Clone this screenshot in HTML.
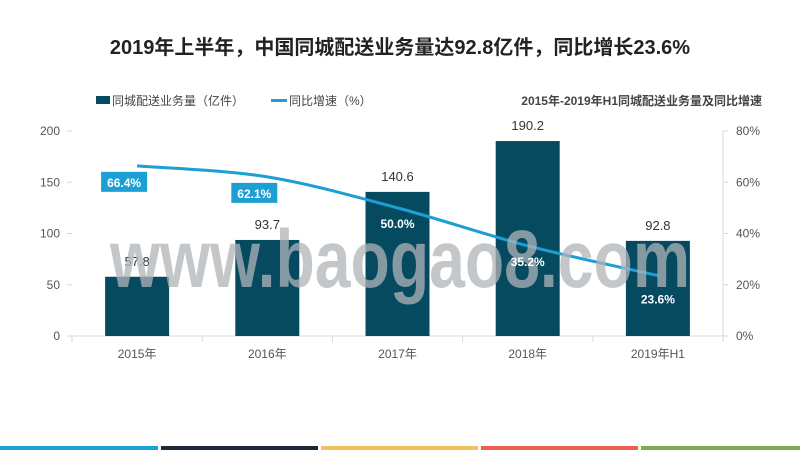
<!DOCTYPE html>
<html><head><meta charset="utf-8"><style>
body{margin:0;width:800px;height:450px;overflow:hidden;background:#fff;font-family:"Liberation Sans","Noto Sans CJK SC",sans-serif;}
</style></head><body>
<svg width="800" height="450" style="position:absolute;left:0;top:0">
<text x="400" y="54" text-anchor="middle" font-size="20" font-weight="bold" fill="#222">2019年上半年，中国同城配送业务量达92.8亿件，同比增长23.6%</text>
<g>
<rect x="96" y="96" width="14" height="8" fill="#064a60"/>
<text x="112" y="105" font-size="12" fill="#444">同城配送业务量（亿件）</text>
<rect x="271" y="99" width="16" height="3" fill="#1c9fd3"/>
<text x="289" y="105" font-size="12" fill="#444">同比增速（%）</text>
</g>
<text x="762" y="105" text-anchor="end" font-size="12" font-weight="bold" fill="#444">2015年-2019年H1同城配送业务量及同比增速</text>
<g id="axes"></g><g id="bars"></g><g id="line"></g><g id="labels"></g>
<text x="110" y="287" font-size="82" font-weight="bold" fill="#b0b4b8" fill-opacity="0.75" textLength="580" lengthAdjust="spacingAndGlyphs">www.baogao8.com</text>
<g id="plabels"></g>
<rect x="0" y="446" width="158" height="4" fill="#1ba1d8"/>
<rect x="161" y="446" width="157" height="4" fill="#1e2a38"/>
<rect x="321" y="446" width="157" height="4" fill="#f0c060"/>
<rect x="481" y="446" width="157" height="4" fill="#e8604c"/>
<rect x="641" y="446" width="159" height="4" fill="#7aac50"/>
</svg>
<script>
const categories=["2015年","2016年","2017年","2018年","2019年H1"];
const volumes=[57.8,93.7,140.6,190.2,92.8];
const growth=[66.4,62.1,50.0,35.2,23.6];
const leftTicks=[0,50,100,150,200];
const rightTicks=[0,20,40,60,80];
const NS="http://www.w3.org/2000/svg";
const x0=72,x1=723,yb=336,yt=131;
const band=(x1-x0)/categories.length;
const xc=i=>x0+band*(i+0.5);
const yL=v=>yb-(v/200)*(yb-yt);
const yR=v=>yb-(v/80)*(yb-yt);
function mk(tag,a,parent,txt){const e=document.createElementNS(NS,tag);for(const k in a)e.setAttribute(k,a[k]);if(txt!==undefined)e.textContent=txt;document.getElementById(parent).appendChild(e);return e;}
let e;
e=mk("line",{x1:x0,y1:yb,x2:x1,y2:yb,stroke:"#d9d9d9"},"axes");


e=mk("line",{x1:x1,y1:yt,x2:x1,y2:yb,stroke:"#d9d9d9"},"axes");


for(let i=0;i<=categories.length;i++){e=mk("line",{x1:x0+band*i,y1:yb,x2:x0+band*i,y2:yb+6,stroke:"#d9d9d9"},"axes");

}
leftTicks.forEach(t=>{e=mk("text",{x:x0-12,y:yL(t)+4,"text-anchor":"end","font-size":12,fill:"#555"},"axes",t);


e=mk("line",{x1:x0-5,y1:yL(t),x2:x0,y2:yL(t),stroke:"#d9d9d9"},"axes");

});
rightTicks.forEach(t=>{e=mk("text",{x:x1+13,y:yR(t)+4,"font-size":12,fill:"#555"},"axes",t+"%");


e=mk("line",{x1:x1,y1:yR(t),x2:x1+5,y2:yR(t),stroke:"#d9d9d9"},"axes");

});
categories.forEach((c,i)=>{
e=mk("text",{x:xc(i),y:yb+22,"text-anchor":"middle","font-size":12,fill:"#555"},"axes",c);


const bw=64;
e=mk("rect",{x:xc(i)-bw/2,y:yL(volumes[i]),width:bw,height:yb-yL(volumes[i]),fill:"#064a60"},"bars");


e=mk("text",{x:xc(i),y:yL(volumes[i])-11,"text-anchor":"middle","font-size":13,fill:"#333"},"labels",volumes[i].toFixed(1));


});
const pts=growth.map((g,i)=>[xc(i),yR(g)]);
let d="M"+pts[0][0]+","+pts[0][1];
for(let i=1;i<pts.length;i++){const p0=pts[Math.max(i-2,0)],p1=pts[i-1],p2=pts[i],p3=pts[Math.min(i+1,pts.length-1)];
d+=" C"+(p1[0]+(p2[0]-p0[0])/6)+","+(p1[1]+(p2[1]-p0[1])/6)+" "+(p2[0]-(p3[0]-p1[0])/6)+","+(p2[1]-(p3[1]-p1[1])/6)+" "+p2[0]+","+p2[1];}
e=mk("path",{d:d,fill:"none",stroke:"#1c9fd3","stroke-width":3},"line");


growth.forEach((g,i)=>{
const boxed=i<2;
const ly=boxed?pts[i][1]+19:pts[i][1]+(i===4?26:18);
const lx=boxed?xc(i)-13:xc(i);
if(boxed){e=mk("rect",{x:lx-23,y:ly-13,width:46,height:20,fill:"#1c9fd3"},"plabels");

}
e=mk("text",{x:lx,y:ly+2,"text-anchor":"middle","font-size":12,"font-weight":"bold",fill:"#fff"},"plabels",g.toFixed(1)+"%");


});
</script>
</body></html>
